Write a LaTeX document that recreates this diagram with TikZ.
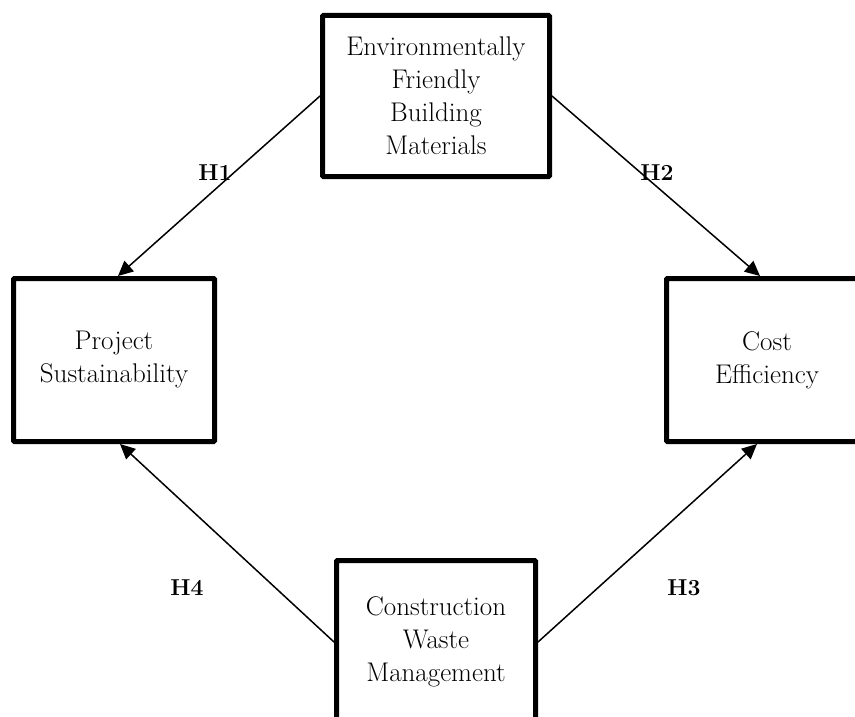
\documentclass[tikz,border=0pt]{standalone}
\usetikzlibrary{arrows.meta}
\begin{document}
\begin{tikzpicture}[x=1pt,y=-1pt,
  box/.style={draw, line width=5pt, rounded corners=1pt, align=center,
    font=\fontsize{27}{33}\selectfont, inner sep=0pt},
  link/.style={line width=1.5pt, -{Triangle[length=15pt,width=14pt]}},
  hyp/.style={font=\fontsize{23}{27}\selectfont\bfseries}]
\useasboundingbox (0,0) rectangle (855,717);
\clip (0,0) rectangle (855,717);
\node[box, minimum width=227pt, minimum height=161pt] (efbm) at (436,96)
  {Environmentally\\Friendly\\Building\\Materials};
\node[box, minimum width=201pt, minimum height=163pt] (ps) at (114,360)
  {Project\\Sustainability};
\node[box, minimum width=201pt, minimum height=163pt] (ce) at (767,360)
  {Cost\\Efficiency};
\node[box, minimum width=199pt, minimum height=163pt] (cwm) at (436,642)
  {Construction\\Waste\\Management};
\draw[link] (efbm.west) -- ([xshift=4pt]ps.north);
\draw[link] (efbm.east) -- ([xshift=-7pt]ce.north);
\draw[link] (cwm.west) -- ([xshift=6pt]ps.south);
\draw[link] (cwm.east) -- ([xshift=-10pt]ce.south);
\node[hyp] (h1) at (215,173) {H1};
\node[hyp] (h2) at (657,173) {H2};
\node[hyp] (h4) at (187,588) {H4};
\node[hyp] (h3) at (684,588) {H3};
\end{tikzpicture}
\end{document}
